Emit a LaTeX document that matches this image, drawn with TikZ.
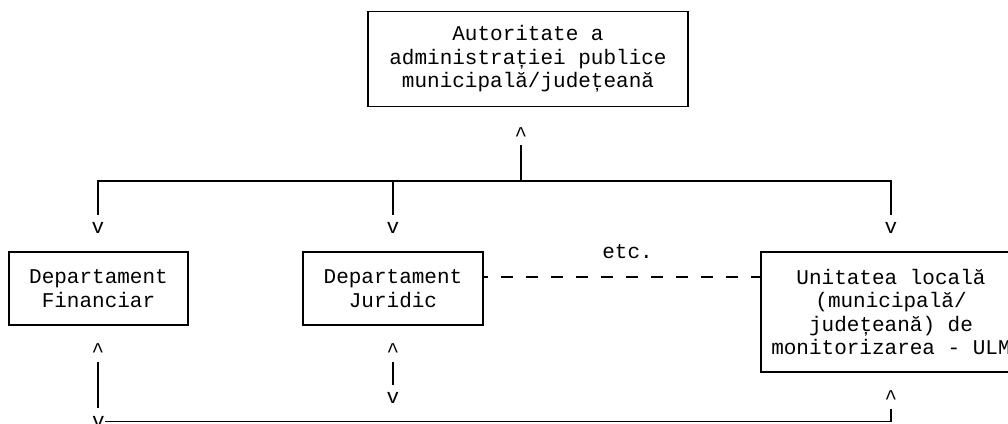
\documentclass[tikz,border=0pt]{standalone}
\usepackage{fontspec}
\setmonofont{Liberation Mono}
\usetikzlibrary{positioning}

\tikzset{
  box/.style={draw, line width=1.5pt, align=center, inner sep=0pt,
    font=\ttfamily\fontsize{21}{23.5}\selectfont},
  link/.style={line width=1.5pt},
  etcline/.style={line width=1.5pt, dash pattern=on 12pt off 13pt, dash phase=8pt},
  glyph/.style={font=\ttfamily\fontsize{21}{23.5}\selectfont, anchor=base, inner sep=0pt},
}

\begin{document}
\begin{tikzpicture}[x=1pt,y=1pt]
  \useasboundingbox (0,0) rectangle (1008,423);
  \clip (0,0) rectangle (1008,423);

  % Boxes
  \node[box, minimum width=320pt, minimum height=95pt] (auth) at (528,364)
    {Autoritate a\\administrației publice\\municipală/județeană};
  \node[box, minimum width=179pt, minimum height=73pt] (fin) at (98.5,134.5)
    {Departament\\Financiar};
  \node[box, minimum width=180pt, minimum height=73pt] (jur) at (393,134.5)
    {Departament\\Juridic};
  \node[box, minimum width=260pt, minimum height=120pt] (ulm) at (891,111)
    {Unitatea locală\\(municipală/\\județeană) de\\monitorizarea - ULM};

  % Arrow heads (^ and v)
  \node[glyph] (capAuth) at (521,281.5) {\textasciicircum};
  \node[glyph] (vFin) at (98,189) {v};
  \node[glyph] (vJur) at (393,189) {v};
  \node[glyph] (vUlm) at (891,189) {v};
  \node[glyph] (capFin) at (98,65.5) {\textasciicircum};
  \node[glyph] (capJur) at (393,65.5) {\textasciicircum};
  \node[glyph] (vJurLow) at (393,20) {v};
  \node[glyph] (capUlm) at (891,18.5) {\textasciicircum};
  \node[glyph] (vFinLow) at (98.5,-4) {v};

  % Line ends
  \coordinate (authFoot) at (521,278);
  \coordinate (busMid) at (521,242);
  \coordinate (busL) at (98,242);
  \coordinate (busJ) at (393,242);
  \coordinate (busR) at (891,242);
  \coordinate (finTop) at (98,208);
  \coordinate (jurTop) at (393,208);
  \coordinate (ulmTop) at (891,208);
  \coordinate (finFoot) at (98,61);
  \coordinate (finEnd) at (98,15);
  \coordinate (jurFoot) at (393,61);
  \coordinate (jurEnd) at (393,38);
  \coordinate (baseL) at (105,1.5);
  \coordinate (baseR) at (891,1.5);
  \coordinate (ulmFoot) at (891,14);

  % Links
  \draw[link] (authFoot) -- (busMid);
  \draw[link] (finTop) -- (busL) -- (busR) -- (ulmTop);
  \draw[link] (busJ) -- (jurTop);
  \draw[link] (finFoot) -- (finEnd);
  \draw[link] (jurFoot) -- (jurEnd);
  \draw[link] (baseL) -- (baseR) -- (ulmFoot);

  \draw[etcline] (jur.east |- 0,146) -- (ulm.west |- 0,146)
    node[glyph, pos=0.52, yshift=18.5pt] (etc) {etc.};
\end{tikzpicture}
\end{document}
